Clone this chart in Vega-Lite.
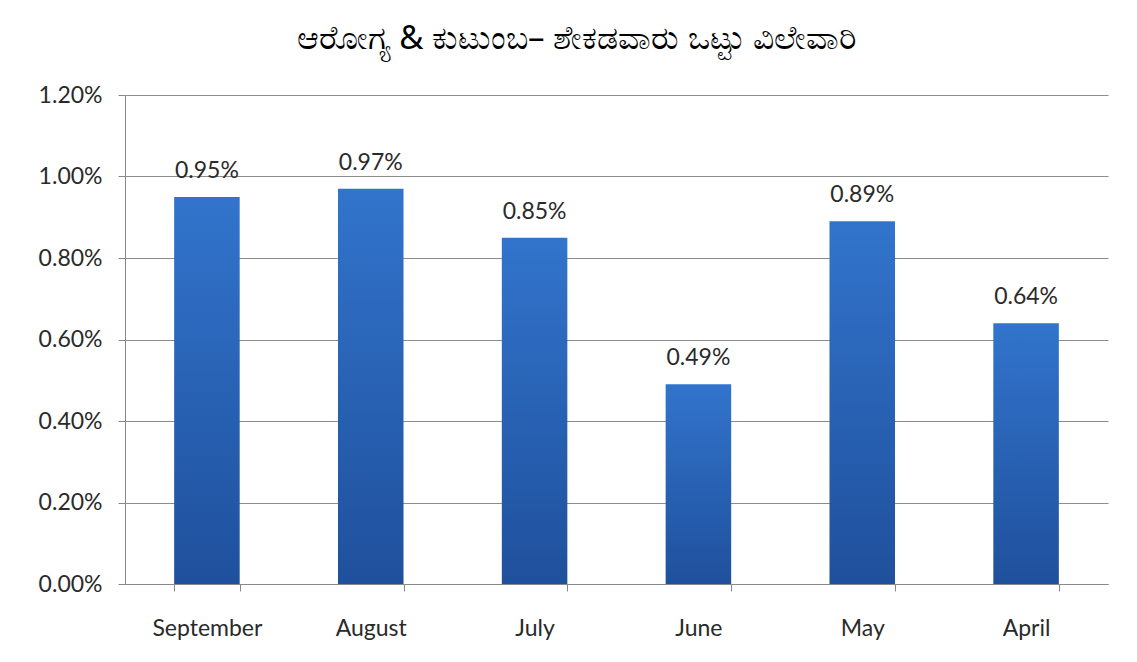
{
  "$schema": "https://vega.github.io/schema/vega-lite/v6.json",
  "width": 983,
  "height": 489,
  "autosize": {"type": "none"},
  "padding": {"left": 125, "top": 95, "right": 29, "bottom": 78},
  "background": "white",
  "title": {
    "text": "ಆರೋಗ್ಯ & ಕುಟುಂಬ– ಶೇಕಡವಾರು ಒಟ್ಟು ವಿಲೇವಾರಿ",
    "fontSize": 33,
    "font": "Noto Sans",
    "fontWeight": "normal",
    "color": "#000000",
    "anchor": "middle",
    "offset": 28,
    "dx": -40
  },
  "config": {
    "view": {"stroke": null},
    "font": "Lato"
  },
  "data": {
    "values": [
      {"month": "September", "value": 0.0095},
      {"month": "August", "value": 0.0097},
      {"month": "July", "value": 0.0085},
      {"month": "June", "value": 0.0049},
      {"month": "May", "value": 0.0089},
      {"month": "April", "value": 0.0064}
    ]
  },
  "encoding": {
    "x": {
      "field": "month",
      "type": "nominal",
      "sort": null,
      "scale": {"paddingInner": 0.6, "paddingOuter": 0.3},
      "axis": {
        "title": null,
        "labelAngle": 0,
        "labelFontSize": 23,
        "labelFontWeight": "normal",
        "labelColor": "#2a2a2a",
        "labelPadding": 26,
        "domainColor": "#888888",
        "tickColor": "#888888",
        "tickBand": "extent",
        "tickSize": 7,
        "grid": false
      }
    },
    "y": {
      "field": "value",
      "type": "quantitative",
      "scale": {"domain": [0, 0.012], "nice": false},
      "axis": {
        "title": null,
        "format": ".2%",
        "values": [0, 0.002, 0.004, 0.006, 0.008, 0.01, 0.012],
        "labelFontSize": 23,
        "labelColor": "#2a2a2a",
        "labelPadding": 16,
        "domainColor": "#888888",
        "tickColor": "#888888",
        "tickSize": 7,
        "gridColor": "#8c8c8c",
        "grid": true
      }
    }
  },
  "layer": [
    {
      "mark": {
        "type": "bar",
        "color": {
          "gradient": "linear",
          "x1": 0, "y1": 0, "x2": 0, "y2": 1,
          "stops": [
            {"offset": 0, "color": "#3274cc"},
            {"offset": 1, "color": "#1f509c"}
          ]
        }
      }
    },
    {
      "mark": {"type": "text", "dy": -26, "fontSize": 23, "color": "#2a2a2a"},
      "encoding": {
        "text": {"field": "value", "type": "quantitative", "format": ".2%"}
      }
    }
  ]
}
